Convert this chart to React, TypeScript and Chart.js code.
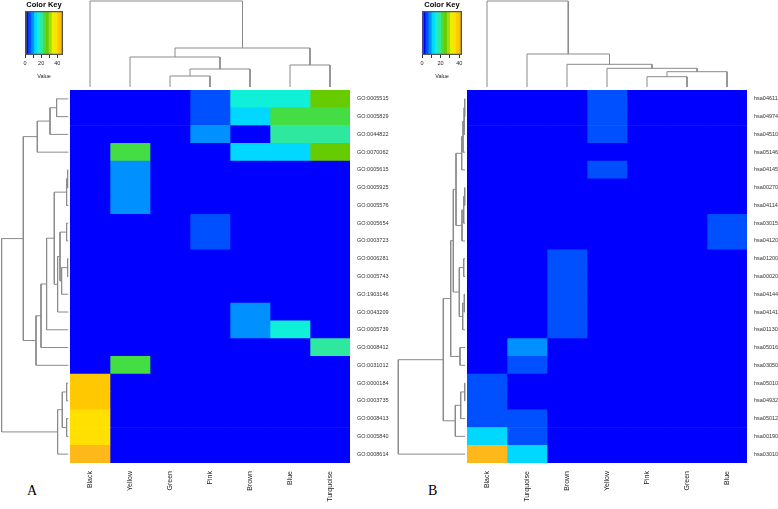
import React, { useEffect, useRef } from "react";
import { Chart, registerables } from "chart.js";
Chart.register(...registerables);

const FONT = "'Liberation Sans', Arial, Helvetica, sans-serif";

// Colour palette (bins spread equally over 0..keyMax)
const PALETTE = ["#0000FF", "#0050FF", "#0090FF", "#00D8FF", "#10F0D8", "#2EE8A0", "#44DD44", "#66CC00", "#A8D810", "#E8F000", "#FFE000", "#FFC800", "#FFB81A"];

// ---------- Panel A ----------
const colsA = ["Black", "Yellow", "Green", "Pink", "Brown", "Blue", "Turquoise"];
const rowsA = ["GO:0005515", "GO:0005829", "GO:0044822", "GO:0070062", "GO:0005615", "GO:0005925", "GO:0005576", "GO:0005654", "GO:0003723", "GO:0006281", "GO:0005743", "GO:1903146", "GO:0043209", "GO:0005739", "GO:0008412", "GO:0031012", "GO:0000184", "GO:0003735", "GO:0008413", "GO:0005840", "GO:0008614"];
const aBlack = [0, 0, 0, 0, 0, 0, 0, 0, 0, 0, 0, 0, 0, 0, 0, 0, 41.5, 41.5, 38, 38, 45];
const aYellow = [0, 0, 0, 23, 9, 9, 9, 0, 0, 0, 0, 0, 0, 0, 0, 23, 0, 0, 0, 0, 0];
const aGreen = [0, 0, 0, 0, 0, 0, 0, 0, 0, 0, 0, 0, 0, 0, 0, 0, 0, 0, 0, 0, 0];
const aPink = [5, 5, 9, 0, 0, 0, 0, 5, 5, 0, 0, 0, 0, 0, 0, 0, 0, 0, 0, 0, 0];
const aBrown = [16, 12.5, 0, 12.5, 0, 0, 0, 0, 0, 0, 0, 0, 9, 9, 0, 0, 0, 0, 0, 0, 0];
const aBlue = [16, 23, 20, 12.5, 0, 0, 0, 0, 0, 0, 0, 0, 0, 16, 0, 0, 0, 0, 0, 0, 0];
const aTurquoise = [27, 23, 20, 27, 0, 0, 0, 0, 0, 0, 0, 0, 0, 0, 20, 0, 0, 0, 0, 0, 0];
const keyMaxA = 47;
const keyTicksA = [0, 10, 20, 30, 40];
// column dendrogram (hclust-style merges: negative = leaf, positive = earlier merge)
const colMergeA = [[-3, -4], [1, -5], [-2, 2], [-6, -7], [3, 4], [-1, 5]];
const colHeightA = [11, 18, 30, 22, 39, 86];
// row dendrogram
const rowMergeA = [[-1, -2], [1, -3], [2, -4], [-5, -6], [4, -7], [-8, -9], [-10, -11], [7, -12], [6, 8], [9, -13], [5, 10], [11, -14], [12, -15], [13, -16], [3, 14], [-17, -18], [-19, -20], [16, 17], [18, -21], [15, 19]];
const rowHeightA = [11.7, 18.3, 31, 0.7, 1.7, 1.7, 0.7, 6.7, 8.3, 10.7, 14, 21.7, 27.3, 32.3, 45, 1.7, 1.7, 6, 10.7, 66.7];

// ---------- Panel B ----------
const colsB = ["Black", "Turquoise", "Brown", "Yellow", "Pink", "Green", "Blue"];
const rowsB = ["hsa04611", "hsa04974", "hsa04510", "hsa05146", "hsa04145", "hsa00270", "hsa04114", "hsa03015", "hsa04120", "hsa01200", "hsa00020", "hsa04144", "hsa04141", "hsa01130", "hsa05016", "hsa03050", "hsa05010", "hsa04932", "hsa05012", "hsa00190", "hsa03010"];
const bBlack = [0, 0, 0, 0, 0, 0, 0, 0, 0, 0, 0, 0, 0, 0, 0, 0, 5, 5, 5, 11.5, 42];
const bTurquoise = [0, 0, 0, 0, 0, 0, 0, 0, 0, 0, 0, 0, 0, 0, 8, 5, 0, 0, 5, 5, 11.5];
const bBrown = [0, 0, 0, 0, 0, 0, 0, 0, 0, 5, 5, 5, 5, 5, 0, 0, 0, 0, 0, 0, 0];
const bYellow = [5, 5, 5, 0, 5, 0, 0, 0, 0, 0, 0, 0, 0, 0, 0, 0, 0, 0, 0, 0, 0];
const bPink = [0, 0, 0, 0, 0, 0, 0, 0, 0, 0, 0, 0, 0, 0, 0, 0, 0, 0, 0, 0, 0];
const bGreen = [0, 0, 0, 0, 0, 0, 0, 0, 0, 0, 0, 0, 0, 0, 0, 0, 0, 0, 0, 0, 0];
const bBlue = [0, 0, 0, 0, 0, 0, 0, 5, 5, 0, 0, 0, 0, 0, 0, 0, 0, 0, 0, 0, 0];
const keyMaxB = 43;
const keyTicksB = [0, 10, 20, 30, 40];
const colMergeB = [[-5, -6], [1, -7], [-4, 2], [-3, 3], [-2, 4], [-1, 5]];
const colHeightB = [10.3, 15.3, 18.7, 22.7, 33, 86];
const rowMergeB = [[-1, -2], [1, -3], [2, -4], [3, -5], [-6, -7], [5, -8], [6, -9], [4, 7], [-10, -11], [-12, -13], [10, -14], [9, 11], [8, 12], [-15, -16], [13, 14], [-17, -18], [16, -19], [17, -20], [15, 18], [19, -21]];
const rowHeightB = [0.3, 1, 2, 3.3, 0.3, 1.3, 3, 9, 1.3, 0.7, 2.3, 5.7, 11.7, 5, 14.3, 0.3, 4.3, 9.7, 21.7, 66.7];

const heatA = [aBlack, aYellow, aGreen, aPink, aBrown, aBlue, aTurquoise];
const heatB = [bBlack, bTurquoise, bBrown, bYellow, bPink, bGreen, bBlue];

// ---------- helpers ----------
function colorOf(v: number, max: number) {
  const n = PALETTE.length;
  const i = Math.max(0, Math.min(n - 1, Math.floor((v / max) * n)));
  return PALETTE[i];
}

function dendroSegments(merges: number[][], heights: number[], vertical: boolean) {
  const pos: number[] = [];
  const hgt: number[] = [];
  const get = (id: number) => (id < 0 ? [-id - 0.5, 0] : [pos[id - 1], hgt[id - 1]]);
  const segs: { x: number; y: number }[][] = [];
  merges.forEach(([a, b], k) => {
    const [pa, ha] = get(a);
    const [pb, hb] = get(b);
    const h = heights[k];
    pos[k] = (pa + pb) / 2;
    hgt[k] = h;
    const pts = [[pa, ha], [pa, h], [pb, h], [pb, hb]];
    segs.push(pts.map(([p, v]) => (vertical ? { x: p, y: v } : { x: v, y: p })));
  });
  return segs;
}

function dendroConfig(merges: number[][], heights: number[], vertical: boolean, n: number, hMin: number, hMax: number): any {
  const segs = dendroSegments(merges, heights, vertical);
  const posScale = { type: "linear", min: 0, max: n, display: false, reverse: !vertical };
  const hScale = { type: "linear", min: hMin, max: hMax, display: false, reverse: !vertical };
  return {
    type: "scatter",
    data: {
      datasets: segs.map((pts) => ({
        data: pts,
        showLine: true,
        pointRadius: 0,
        borderColor: "#8a8a8a",
        borderWidth: 1,
        clip: false,
      })),
    },
    options: {
      animation: false,
      responsive: false,
      layout: { padding: 0 },
      plugins: { legend: { display: false }, tooltip: { enabled: false } },
      scales: vertical ? { x: posScale, y: hScale } : { x: hScale, y: posScale },
    },
  };
}

function heatConfig(cols: string[], rows: string[], heat: number[][], max: number, yWidth: number): any {
  return {
    type: "bar",
    data: {
      labels: rows,
      datasets: cols.map((c, j) => ({
        label: c,
        data: rows.map(() => [j, j + 1]),
        backgroundColor: heat[j].map((v) => colorOf(v, max)),
        borderWidth: 0,
        borderSkipped: false,
        grouped: false,
        barPercentage: 1,
        categoryPercentage: 1,
      })),
    },
    options: {
      indexAxis: "y",
      animation: false,
      responsive: false,
      layout: { padding: 0 },
      plugins: { legend: { display: false }, tooltip: { enabled: false } },
      scales: {
        x: {
          type: "linear",
          min: 0,
          max: cols.length,
          position: "bottom",
          afterBuildTicks: (s: any) => {
            s.ticks = cols.map((_, j) => ({ value: j + 0.5 }));
          },
          afterFit: (s: any) => {
            s.height = 46;
            s.paddingLeft = 0;
            s.paddingRight = 0;
          },
          ticks: {
            callback: (_v: any, i: number) => cols[i],
            minRotation: 90,
            maxRotation: 90,
            autoSkip: false,
            padding: 8,
            font: { size: 7, family: FONT },
            color: "#222",
          },
          grid: { display: false, drawTicks: false },
          border: { display: false },
        },
        y: {
          type: "category",
          position: "right",
          afterFit: (s: any) => {
            s.width = yWidth;
            s.paddingTop = 0;
            s.paddingBottom = 0;
          },
          ticks: { autoSkip: false, padding: 7, font: { size: 5.5, family: FONT }, color: "#333" },
          grid: { display: false, drawTicks: false },
          border: { display: false },
        },
      },
    },
  };
}

function keyConfig(max: number, ticks: number[]): any {
  const n = PALETTE.length;
  const w = max / n;
  return {
    type: "bar",
    data: {
      labels: [""],
      datasets: [
        {
          data: [[0, max]],
          backgroundColor: "rgba(0,0,0,0)",
          borderColor: "#555",
          borderWidth: 1,
          borderSkipped: false,
          grouped: false,
          barPercentage: 1,
          categoryPercentage: 1,
          order: 0,
        },
        ...PALETTE.map((c, i) => ({
          data: [[i * w, (i + 1) * w]],
          backgroundColor: c,
          borderWidth: 0,
          grouped: false,
          barPercentage: 1,
          categoryPercentage: 1,
          order: 1,
        })),
      ],
    },
    options: {
      indexAxis: "y",
      animation: false,
      responsive: false,
      layout: { padding: { left: 25, right: 25 } },
      plugins: {
        legend: { display: false },
        tooltip: { enabled: false },
        title: {
          display: true,
          text: "Color Key",
          font: { size: 7.5, weight: "bold", family: FONT },
          color: "#000",
          padding: { top: 0, bottom: 2 },
        },
      },
      scales: {
        x: {
          type: "linear",
          min: 0,
          max,
          afterBuildTicks: (s: any) => {
            s.ticks = ticks.map((v) => ({ value: v }));
          },
          afterFit: (s: any) => {
            s.height = 25;
            s.paddingLeft = 0;
            s.paddingRight = 0;
          },
          ticks: {
            callback: (v: any) => (v % 20 === 0 ? String(v) : ""),
            font: { size: 5.5, family: FONT },
            color: "#222",
            padding: 2,
            maxRotation: 0,
            autoSkip: false,
          },
          grid: { drawOnChartArea: false, drawTicks: true, tickLength: 3, color: "#333" },
          border: { display: false },
          title: { display: true, text: "Value", font: { size: 5.5, family: FONT }, color: "#222", padding: { top: 1, bottom: 0 } },
        },
        y: { display: false },
      },
    },
  };
}

function ChartBox({ left, top, width, height, make }: { left: number; top: number; width: number; height: number; make: () => any }) {
  const ref = useRef<HTMLCanvasElement>(null);
  useEffect(() => {
    const chart = new Chart(ref.current as HTMLCanvasElement, make());
    return () => chart.destroy();
  }, []);
  return <canvas ref={ref} width={width} height={height} style={{ position: "absolute", left, top, width, height }} />;
}

export default function App() {
  const label: React.CSSProperties = {
    position: "absolute",
    fontFamily: "'Liberation Serif', 'Times New Roman', serif",
    fontSize: 14,
    color: "#000",
    lineHeight: "14px",
  };
  return (
    <div style={{ position: "absolute", left: 0, top: 0, width: 778, height: 509, background: "#fff", overflow: "hidden" }}>
      {/* Panel A */}
      <ChartBox left={0} top={0} width={88} height={80} make={() => keyConfig(keyMaxA, keyTicksA)} />
      <ChartBox left={70} top={0} width={280} height={88} make={() => dendroConfig(colMergeA, colHeightA, true, 7, -1, 87)} />
      <ChartBox left={0} top={90} width={70} height={373} make={() => dendroConfig(rowMergeA, rowHeightA, false, 21, -1.7, 68.3)} />
      <ChartBox left={70} top={90} width={325} height={419} make={() => heatConfig(colsA, rowsA, heatA, keyMaxA, 45)} />
      <div style={{ ...label, left: 27, top: 484 }}>A</div>
      {/* Panel B */}
      <ChartBox left={397} top={0} width={90} height={80} make={() => keyConfig(keyMaxB, keyTicksB)} />
      <ChartBox left={467} top={0} width={280} height={88} make={() => dendroConfig(colMergeB, colHeightB, true, 7, -1, 87)} />
      <ChartBox left={396} top={90} width={71} height={373} make={() => dendroConfig(rowMergeB, rowHeightB, false, 21, -2, 69)} />
      <ChartBox left={467} top={90} width={311} height={419} make={() => heatConfig(colsB, rowsB, heatB, keyMaxB, 31)} />
      <div style={{ ...label, left: 428, top: 484 }}>B</div>
    </div>
  );
}
